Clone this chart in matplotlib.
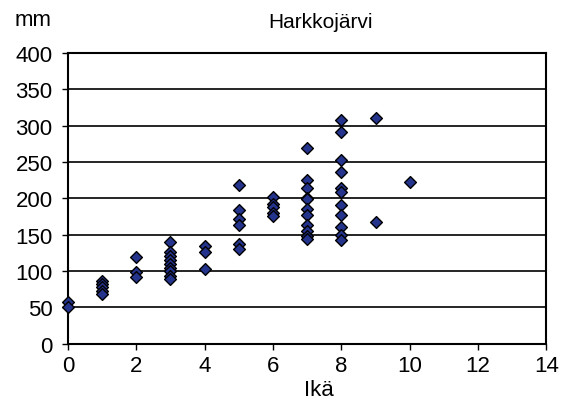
import matplotlib
matplotlib.use("Agg")
import matplotlib.pyplot as plt

plt.rcParams['font.family'] = ['Liberation Sans', 'DejaVu Sans']

ages = [0, 0,
        1, 1, 1, 1, 1,
        2, 2, 2,
        3, 3, 3, 3, 3, 3, 3, 3, 3,
        4, 4, 4,
        5, 5, 5, 5, 5, 5,
        6, 6, 6, 6, 6,
        7, 7, 7, 7, 7, 7, 7, 7, 7, 7, 7,
        8, 8, 8, 8, 8, 8, 8, 8, 8, 8, 8,
        9, 9,
        10]
lengths = [58, 51,
           86, 82, 78, 72, 68,
           120, 99, 92,
           140, 126, 121, 116, 110, 104, 100, 93, 89,
           134, 126, 103,
           219, 184, 172, 164, 137, 130,
           202, 193, 188, 180, 176,
           270, 226, 215, 201, 199, 185, 177, 164, 155, 149, 144,
           308, 291, 253, 236, 214, 209, 191, 177, 161, 150, 143,
           311, 167,
           222]

x_ticks = [0, 2, 4, 6, 8, 10, 12, 14]
y_ticks = [0, 50, 100, 150, 200, 250, 300, 350, 400]

fig = plt.figure(figsize=(5.71, 4.10), dpi=100)
ax = fig.add_axes([0.119, 0.159, 0.838, 0.709])

ax.scatter(ages, lengths, marker='D', s=36, facecolor='#24348C',
           edgecolor='black', linewidth=1.0, zorder=3, clip_on=False)

ax.set_xlim(0, 14)
ax.set_ylim(0, 400)
ax.set_xticks(x_ticks)
ax.set_yticks(y_ticks)
ax.tick_params(labelsize=16, direction='out', length=4, width=1, color='black')
ax.tick_params(axis='x', pad=4)
ax.tick_params(axis='y', pad=7)
ax.yaxis.grid(True, color='black', linewidth=1.2)
ax.set_axisbelow(True)
for sp in ax.spines.values():
    sp.set_color('black')
    sp.set_linewidth(1.5)

fig.text(320 / 571, 1 - 22 / 410, 'Harkkojärvi', fontsize=15, ha='center', va='center')
ax.set_xlabel('Ikä', fontsize=16, va='top')
ax.xaxis.set_label_coords(0.525, -0.122)
fig.text(0.026, 0.950, 'mm', fontsize=16, ha='left', va='center')

fig.savefig('out.png', dpi=100)
